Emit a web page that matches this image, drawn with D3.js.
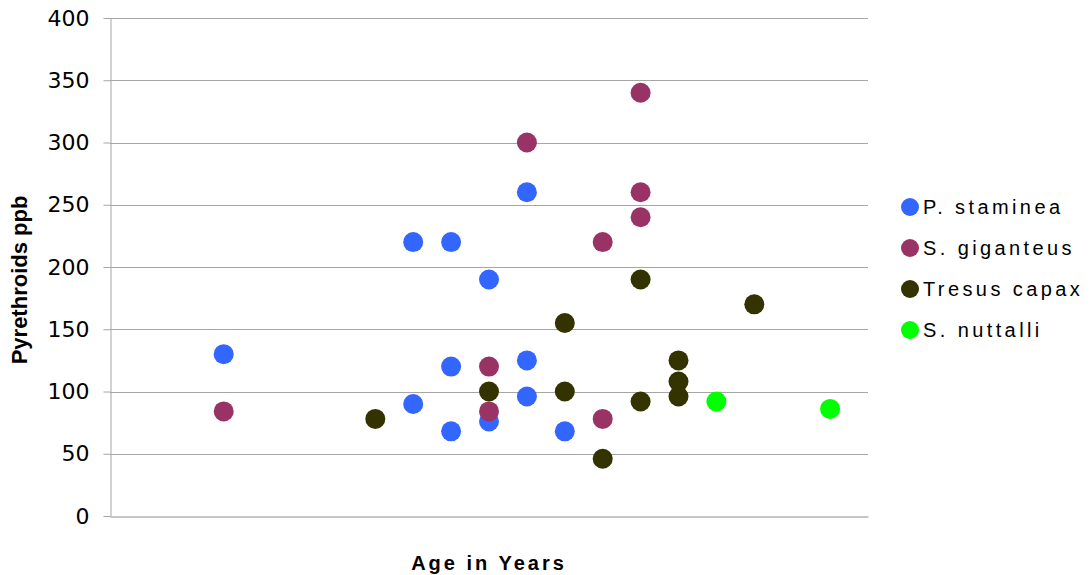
<!DOCTYPE html>
<html>
<head>
<meta charset="utf-8">
<script src="https://cdn.jsdelivr.net/npm/d3@7"></script>
<style>
  body { margin: 0; background: #fff; }
  svg { display: block; }
</style>
</head>
<body>
<div id="chart"></div>
<script>
// series data: age in years (x) and pyrethroids ppb (y)
var seriesNames = ['P. staminea', 'S. giganteus', 'Tresus capax', 'S. nuttalli'];
var seriesColors = ['#3366ff', '#993366', '#333300', '#00ff00'];

var stamineaAge = [3, 8, 9, 10, 11, 8, 9, 9, 10, 11, 11, 12];
var stamineaPpb = [130, 220, 220, 190, 260, 90, 120, 68, 76, 125, 96, 68];

var giganteusAge = [3, 10, 10, 11, 13, 13, 14, 14, 14];
var giganteusPpb = [84, 120, 84, 300, 220, 78, 340, 260, 240];

var capaxAge = [7, 10, 12, 12, 13, 14, 14, 15, 15, 15, 17];
var capaxPpb = [78, 100, 155, 100, 46, 190, 92, 125, 108, 96, 170];

var nuttalliAge = [16, 19];
var nuttalliPpb = [92, 86];

var yTicks = [0, 50, 100, 150, 200, 250, 300, 350, 400];

var width = 1090,
    height = 575,
    margin = { top: 18, right: 222, bottom: 59, left: 110 };

var innerW = width - margin.left - margin.right,
    innerH = height - margin.top - margin.bottom;

function pairs(xs, ys) {
    return xs.map(function(x, i) { return { x: x, y: ys[i] }; });
}

var series = [
    pairs(stamineaAge, stamineaPpb),
    pairs(giganteusAge, giganteusPpb),
    pairs(capaxAge, capaxPpb),
    pairs(nuttalliAge, nuttalliPpb)
];

var x = d3.scaleLinear().domain([0, 20]).range([0, innerW]);
var y = d3.scaleLinear().domain([0, 400]).range([innerH, 0]);

var svg = d3.select('#chart').append('svg')
    .attr('width', width)
    .attr('height', height);

var g = svg.append('g')
    .attr('transform', 'translate(' + margin.left + ',' + margin.top + ')');

// horizontal gridlines
g.append('g')
    .selectAll('line')
    .data(yTicks.slice(1))
    .enter().append('line')
    .attr('x1', 0)
    .attr('x2', innerW)
    .attr('y1', function(d) { return Math.round(y(d)) + 0.5; })
    .attr('y2', function(d) { return Math.round(y(d)) + 0.5; })
    .attr('stroke', '#a6a6a6')
    .attr('stroke-width', 1);

// y axis
var yAxis = g.append('g')
    .attr('transform', 'translate(0.5,0)')
    .call(d3.axisLeft(y).tickValues(yTicks).tickSize(7).tickSizeOuter(0).tickPadding(14));
yAxis.select('.domain').attr('stroke', '#a6a6a6');
yAxis.selectAll('.tick line').attr('stroke', '#a6a6a6');
yAxis.selectAll('.tick text')
    .attr('fill', '#000')
    .style('font-family', 'DejaVu Sans, sans-serif')
    .style('font-size', '22px');

// x axis (no tick labels)
var xAxis = g.append('g')
    .attr('transform', 'translate(0,' + (innerH + 0.5) + ')')
    .call(d3.axisBottom(x).tickValues([]).tickSizeOuter(0));
xAxis.select('.domain').attr('stroke', '#8c8c8c');

// points
series.forEach(function(s, i) {
    g.append('g')
        .selectAll('circle')
        .data(s)
        .enter().append('circle')
        .attr('cx', function(d) { return x(d.x); })
        .attr('cy', function(d) { return y(d.y); })
        .attr('r', 10)
        .attr('fill', seriesColors[i]);
});

// axis titles
svg.append('text')
    .attr('transform', 'translate(27,' + (margin.top + innerH / 2 + 13) + ') rotate(-90)')
    .attr('text-anchor', 'middle')
    .style('font-family', 'Liberation Sans, Arial, sans-serif')
    .style('font-weight', 'bold')
    .style('font-size', '22px')
    .text('Pyrethroids ppb');

svg.append('text')
    .attr('x', margin.left + innerW / 2)
    .attr('y', 570)
    .attr('text-anchor', 'middle')
    .style('font-family', 'Liberation Sans, Arial, sans-serif')
    .style('font-weight', 'bold')
    .style('font-size', '20px')
    .style('letter-spacing', '3px')
    .text('Age in Years');

// legend
var legend = svg.append('g')
    .attr('transform', 'translate(910,207)');

var item = legend.selectAll('g')
    .data(seriesNames)
    .enter().append('g')
    .attr('transform', function(d, i) { return 'translate(0,' + (i * 41) + ')'; });

item.append('circle')
    .attr('r', 9)
    .attr('fill', function(d, i) { return seriesColors[i]; });

item.append('text')
    .attr('x', 13)
    .attr('dy', '0.35em')
    .style('font-family', 'Liberation Sans, Arial, sans-serif')
    .style('font-size', '20px')
    .style('letter-spacing', '3.4px')
    .text(function(d) { return d; });
</script>
</body>
</html>
